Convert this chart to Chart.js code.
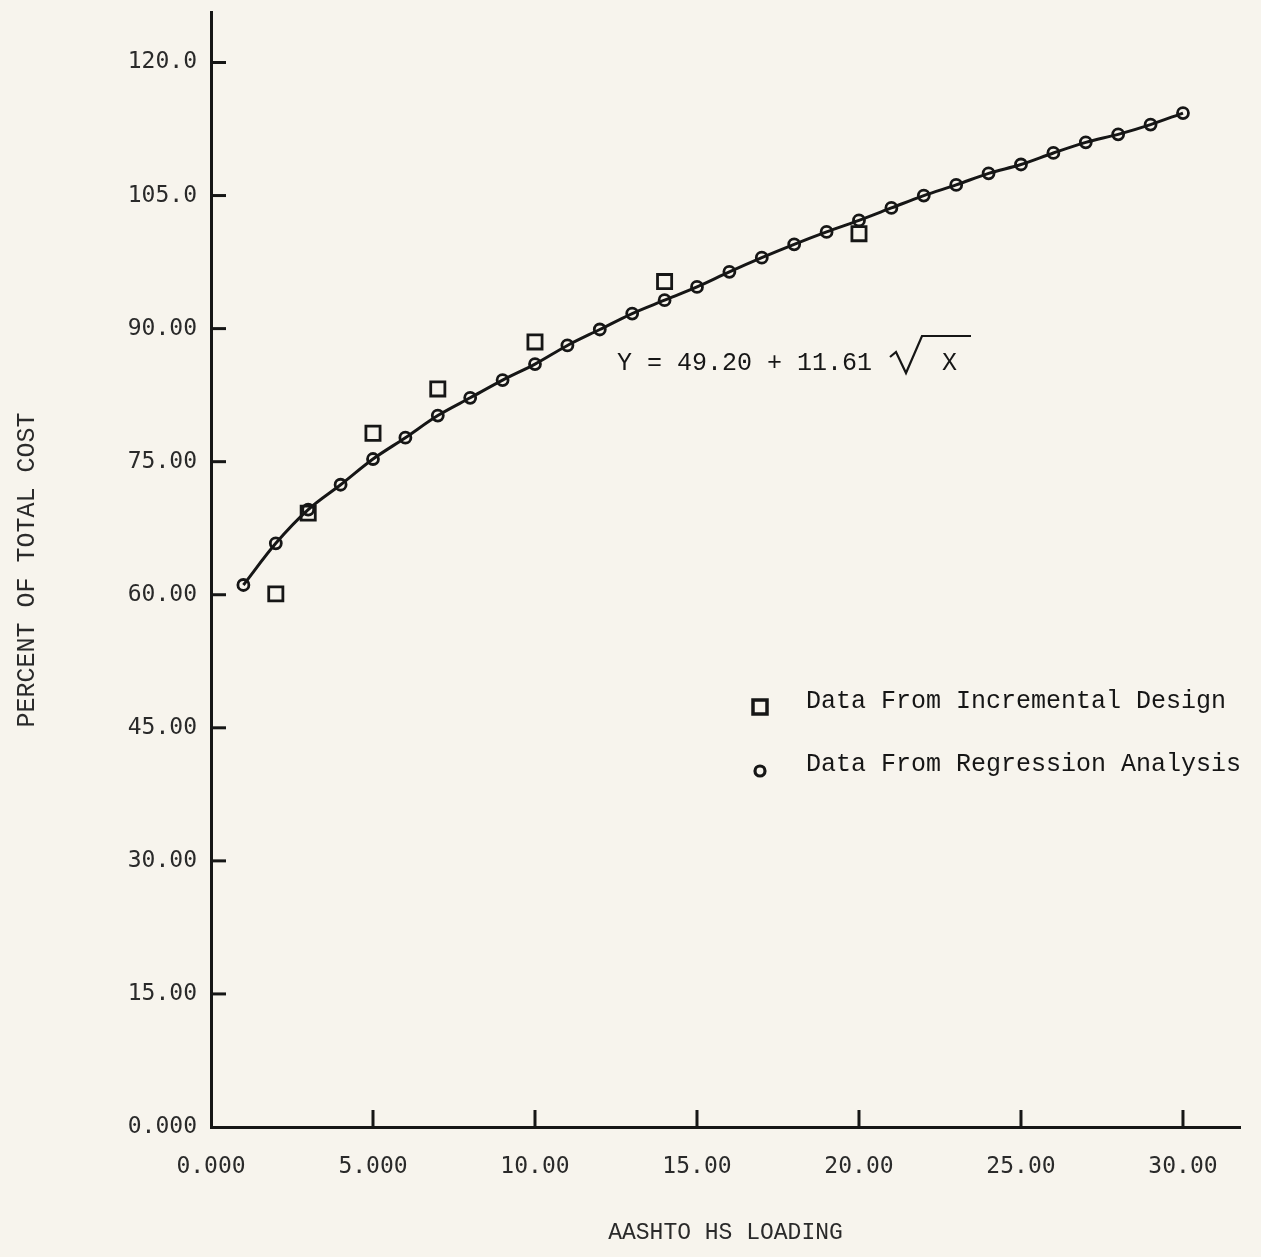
<!DOCTYPE html>
<html>
<head>
<meta charset="utf-8">
<script src="https://cdn.jsdelivr.net/npm/chart.js@4.4.0/dist/chart.umd.min.js"></script>
<style>
  html, body { margin: 0; padding: 0; background: #f7f4ed; }
  #wrap { width: 1261px; height: 1257px; }
</style>
</head>
<body>
<div id="wrap"><canvas id="c" width="1261" height="1257"></canvas></div>
<script>
// ---- Data ----
const regX = [1, 2, 3, 4, 5, 6, 7, 8, 9, 10, 11, 12, 13, 14, 15, 16, 17, 18, 19, 20, 21, 22, 23, 24, 25, 26, 27, 28, 29, 30];
const regY = [61.1, 65.8, 69.6, 72.4, 75.3, 77.7, 80.2, 82.2, 84.2, 86.0, 88.1, 89.9, 91.7, 93.2, 94.7, 96.4, 98.0, 99.5, 100.9, 102.2, 103.6, 105.0, 106.2, 107.5, 108.5, 109.8, 111.0, 111.9, 113.0, 114.3];
const incX = [2, 3, 5, 7, 10, 14, 20];
const incY = [60.1, 69.2, 78.2, 83.2, 88.5, 95.3, 100.7];
const xTicks = [0, 5, 10, 15, 20, 25, 30];
const xTickLabels = ['0.000', '5.000', '10.00', '15.00', '20.00', '25.00', '30.00'];
const yTicks = [0, 15, 30, 45, 60, 75, 90, 105, 120];
const yTickLabels = ['0.000', '15.00', '30.00', '45.00', '60.00', '75.00', '90.00', '105.0', '120.0'];
const seriesNames = ['Data From Regression Analysis', 'Data From Incremental Design'];
const equationText = 'Y = 49.20 + 11.61';
const equationVar = 'X';
const xTitle = 'AASHTO HS LOADING';
const yTitle = 'PERCENT OF TOTAL COST';

const INK = '#161616';
const tickFont = { family: '"DejaVu Sans Mono", monospace', size: 23 };
const textFont = '"Liberation Mono", "DejaVu Sans Mono", monospace';

const decorPlugin = {
  id: 'decor',
  afterDraw(chart) {
    const { ctx, chartArea } = chart;
    const xs = chart.scales.x, ys = chart.scales.y;
    ctx.save();
    // inward tick marks
    ctx.strokeStyle = INK;
    ctx.lineWidth = 3;
    xTicks.forEach(v => {
      if (v === 0) return;
      const px = xs.getPixelForValue(v);
      ctx.beginPath();
      ctx.moveTo(px, chartArea.bottom);
      ctx.lineTo(px, chartArea.bottom - 17);
      ctx.stroke();
    });
    yTicks.forEach(v => {
      if (v === 0) return;
      const py = ys.getPixelForValue(v);
      ctx.beginPath();
      ctx.moveTo(chartArea.left, py);
      ctx.lineTo(chartArea.left + 15, py);
      ctx.stroke();
    });

    // equation
    ctx.fillStyle = INK;
    ctx.font = '25px ' + textFont;
    ctx.textBaseline = 'middle';
    ctx.textAlign = 'left';
    const ex = 617, ey = 363;
    ctx.fillText(equationText, ex, ey);
    ctx.fillText(equationVar, 942, ey);
    ctx.lineWidth = 2.2;
    ctx.beginPath();
    ctx.moveTo(890, 357);
    ctx.lineTo(896, 352);
    ctx.lineTo(906, 373);
    ctx.lineTo(922, 336);
    ctx.lineTo(971, 336);
    ctx.stroke();

    // legend
    ctx.lineWidth = 3.5;
    ctx.strokeRect(753, 700, 14, 14);
    ctx.lineWidth = 3.2;
    ctx.beginPath();
    ctx.arc(760, 771, 5, 0, Math.PI * 2);
    ctx.stroke();
    ctx.font = '25px ' + textFont;
    ctx.fillText(seriesNames[1], 806, 701);
    ctx.fillText(seriesNames[0], 806, 764);
    ctx.restore();
  }
};

new Chart(document.getElementById('c'), {
  type: 'line',
  data: {
    datasets: [
      {
        label: seriesNames[0],
        data: regX.map((x, i) => ({ x: x, y: regY[i] })),
        showLine: true,
        borderColor: INK,
        borderWidth: 3,
        cubicInterpolationMode: 'monotone',
        pointStyle: 'circle',
        pointRadius: 5.5,
        pointBorderWidth: 2.8,
        pointBorderColor: INK,
        pointBackgroundColor: 'rgba(0,0,0,0)'
      },
      {
        label: seriesNames[1],
        data: incX.map((x, i) => ({ x: x, y: incY[i] })),
        showLine: false,
        pointStyle: 'rect',
        pointRadius: 10,
        pointBorderWidth: 2.8,
        pointBorderColor: INK,
        pointBackgroundColor: 'rgba(0,0,0,0)'
      }
    ]
  },
  options: {
    responsive: false,
    animation: false,
    layout: { padding: { top: 10, right: 21, bottom: 0, left: 0 } },
    plugins: { legend: { display: false }, tooltip: { enabled: false } },
    scales: {
      x: {
        type: 'linear',
        min: 0,
        max: 31.76,
        afterBuildTicks: s => { s.ticks = xTicks.map(v => ({ value: v })); },
        afterFit: s => { s.height = 130; s.paddingLeft = 0; s.paddingRight = 0; },
        ticks: {
          autoSkip: false,
          maxRotation: 0,
          padding: 26,
          color: '#2a2a2a',
          font: tickFont,
          callback: v => xTickLabels[xTicks.indexOf(v)]
        },
        grid: { display: false, drawTicks: false },
        border: { display: true, color: INK, width: 3 },
        title: {
          display: true,
          text: xTitle,
          color: '#2a2a2a',
          font: { family: textFont, size: 23 },
          padding: { top: 10, bottom: 10 }
        }
      },
      y: {
        type: 'linear',
        min: 0,
        max: 125.6,
        afterBuildTicks: s => { s.ticks = yTicks.map(v => ({ value: v })); },
        afterFit: s => { s.width = 211; s.paddingTop = 0; s.paddingBottom = 0; },
        ticks: {
          autoSkip: false,
          padding: 14,
          color: '#2a2a2a',
          font: tickFont,
          callback: v => yTickLabels[yTicks.indexOf(v)]
        },
        grid: { display: false, drawTicks: false },
        border: { display: true, color: INK, width: 3 },
        title: {
          display: true,
          text: yTitle,
          color: '#2a2a2a',
          font: { family: textFont, size: 25 },
          padding: { top: 12, bottom: 12 }
        }
      }
    }
  },
  plugins: [decorPlugin]
});
</script>
</body>
</html>
